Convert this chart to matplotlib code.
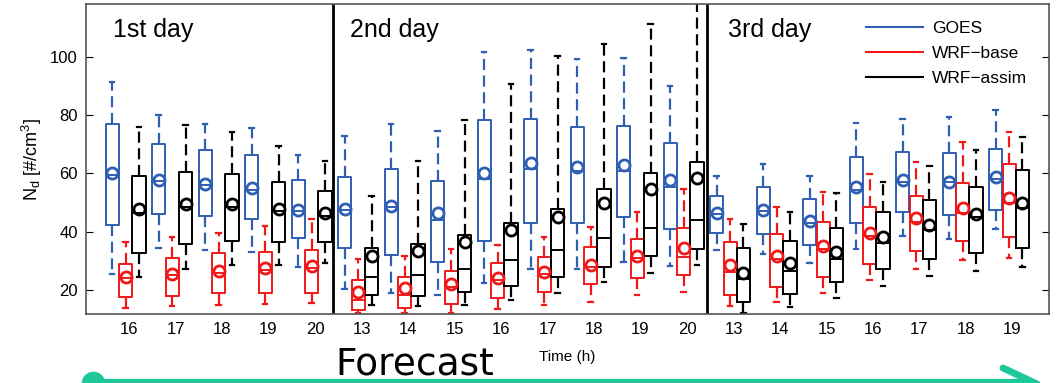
import numpy as np
import matplotlib
matplotlib.use("Agg")
import matplotlib.pyplot as plt
from matplotlib.lines import Line2D

# hours shown under each group of boxes (three forecast days)
hours = [16, 17, 18, 19, 20, 13, 14, 15, 16, 17, 18, 19, 20, 13, 14, 15, 16, 17, 18, 19]
day_names = ["1st day", "2nd day", "3rd day"]

# GOES
goes_lo = [25.4, 34.3, 33.7, 33.2, 27.8, 20.2, 18.9, 18.3, 22.5, 27.1, 27.1, 29.7, 28.2, 33.7, 32.4, 29.2, 34.0, 38.6, 37.4, 40.8]
goes_q1 = [42.3, 46.0, 45.4, 44.4, 37.8, 34.3, 32.0, 29.7, 36.9, 43.1, 43.1, 45.2, 40.8, 39.5, 39.1, 35.5, 43.1, 46.7, 45.8, 47.5]
goes_med = [59.5, 57.5, 56.0, 54.5, 47.0, 47.5, 48.5, 44.0, 58.0, 61.5, 61.0, 60.7, 55.3, 46.0, 47.0, 43.0, 54.5, 57.0, 57.0, 58.0]
goes_q3 = [76.9, 70.0, 67.9, 66.2, 57.6, 58.9, 61.5, 57.5, 78.4, 78.8, 75.9, 76.4, 70.6, 52.1, 55.5, 51.3, 65.8, 67.3, 67.2, 68.3]
goes_hi = [91.4, 80.1, 76.9, 75.6, 66.2, 72.9, 77.0, 74.7, 101.7, 102.5, 99.3, 99.8, 90.1, 59.2, 63.3, 59.3, 77.5, 78.7, 79.3, 81.9]
goes_mean = [60.0, 57.8, 56.3, 54.9, 47.5, 47.7, 48.9, 46.3, 60.3, 63.7, 62.2, 63.0, 57.6, 46.4, 47.5, 43.8, 55.2, 57.8, 57.2, 58.9]

# WRF-base
base_lo = [13.9, 14.5, 14.8, 15.2, 15.4, 12.0, 12.0, 12.2, 13.4, 14.8, 16.0, 18.3, 19.4, 14.5, 16.0, 18.9, 23.4, 27.1, 30.3, 30.9]
base_q1 = [17.7, 18.1, 18.9, 18.9, 19.1, 13.1, 13.7, 15.2, 17.1, 19.4, 22.1, 24.0, 25.2, 18.3, 20.9, 24.6, 28.9, 33.5, 36.8, 38.1]
base_med = [24.0, 25.0, 26.0, 27.0, 27.5, 16.6, 18.3, 21.0, 23.5, 25.5, 28.0, 31.0, 31.2, 26.3, 30.5, 34.0, 38.5, 43.5, 46.5, 49.8]
base_q3 = [28.8, 30.9, 32.6, 33.2, 33.7, 23.4, 24.6, 26.6, 29.4, 31.4, 34.7, 37.4, 41.2, 36.6, 39.2, 43.5, 48.4, 52.4, 56.9, 63.2]
base_hi = [36.6, 38.3, 39.5, 41.8, 44.3, 30.5, 31.7, 34.0, 35.5, 38.1, 41.5, 46.9, 54.7, 44.3, 48.6, 53.8, 59.9, 64.1, 70.7, 74.1]
base_mean = [24.6, 25.5, 26.6, 27.4, 28.2, 19.4, 20.6, 22.1, 24.0, 26.3, 28.6, 31.7, 34.3, 28.6, 31.7, 35.1, 39.7, 44.6, 48.1, 51.7]

# WRF-assim
assim_lo = [24.6, 27.1, 28.6, 28.6, 29.2, 14.8, 14.5, 14.8, 16.6, 18.9, 22.9, 25.9, 28.6, 12.2, 14.3, 17.4, 21.4, 24.8, 26.6, 27.8]
assim_q1 = [32.6, 35.7, 36.8, 36.6, 36.6, 18.3, 18.0, 19.2, 21.5, 24.6, 28.0, 31.7, 34.0, 16.0, 18.6, 22.9, 27.1, 30.5, 32.6, 34.3]
assim_med = [46.5, 48.5, 48.5, 47.0, 45.5, 24.6, 25.0, 27.3, 30.3, 33.7, 38.0, 41.2, 44.1, 23.7, 26.5, 30.5, 36.0, 40.6, 45.0, 48.1]
assim_q3 = [59.3, 60.4, 59.8, 57.0, 54.1, 34.3, 35.7, 38.9, 42.9, 47.8, 54.7, 60.1, 64.1, 34.3, 36.9, 41.2, 46.7, 50.9, 55.3, 61.2]
assim_hi = [75.8, 76.7, 74.1, 69.6, 64.3, 52.1, 64.4, 78.4, 90.8, 100.2, 104.5, 111.4, 125.0, 42.7, 46.9, 53.2, 57.2, 62.4, 68.1, 72.7]
assim_mean = [47.7, 49.6, 49.6, 47.8, 46.3, 31.7, 33.5, 36.5, 40.6, 45.2, 50.0, 54.6, 58.4, 25.9, 29.2, 33.2, 38.1, 42.3, 46.0, 50.0]

series = [
    ("GOES", "#2f5fb3", -0.29, goes_lo, goes_q1, goes_med, goes_q3, goes_hi, goes_mean),
    ("WRF\u2212base", "#f01818", 0.0, base_lo, base_q1, base_med, base_q3, base_hi, base_mean),
    ("WRF\u2212assim", "black", 0.29, assim_lo, assim_q1, assim_med, assim_q3, assim_hi, assim_mean),
]

plt.rcParams['font.family'] = ['Liberation Sans', 'DejaVu Sans']

fig = plt.figure(figsize=(10.58, 3.83), dpi=100)
ax = fig.add_axes([86/1058, 1 - 314/383, 963/1058, 310/383])

idx = np.arange(len(hours))
for name, col, off, lo, q1, med, q3, hi, mn in series:
    stats = []
    for i in range(len(hours)):
        stats.append(dict(whislo=lo[i], q1=q1[i], med=med[i], q3=q3[i],
                          whishi=hi[i], mean=mn[i], fliers=[]))
    ax.bxp(stats, positions=idx + off, widths=0.28, showmeans=True,
           showfliers=False, capwidths=0.09, manage_ticks=False,
           boxprops=dict(color=col, lw=1.4),
           whiskerprops=dict(color=col, lw=1.6, linestyle=(0, (5, 2.5))),
           capprops=dict(color=col, lw=1.6),
           medianprops=dict(color=col, lw=1.4),
           meanprops=dict(marker='o', markerfacecolor='none', markeredgecolor=col,
                          markersize=8, markeredgewidth=2))
    ax.plot([], [], color=col, lw=1.5, label=name)

# day separators
for xs in [4.46, 12.5]:
    ax.axvline(xs, color='black', lw=2)

ax.set_xlim(-0.85, 19.86)
ax.set_ylim(11.75, 118.2)
ax.set_yticks([20, 40, 60, 80, 100])
ax.set_xticks(idx + 0.075)
ax.set_xticklabels([str(h) for h in hours])
ax.tick_params(axis='x', length=0, labelsize=12, pad=6)
ax.tick_params(axis='y', direction='in', length=5, right=True, labelsize=12, pad=6)
for sp in ax.spines.values():
    sp.set_color('#555555')
    sp.set_linewidth(1.2)

ax.set_ylabel("N$_\\mathregular{d}$ [#/cm$^\\mathregular{3}$]", fontsize=13, labelpad=4)
ax.set_xlabel("Time (h)", fontsize=11, labelpad=9)

for xpos, nm in zip([0.028, 0.274, 0.667], day_names):
    ax.text(xpos, 0.894, nm, transform=ax.transAxes, fontsize=18, va='baseline')

ax.legend(loc='upper left', bbox_to_anchor=(0.81, 0.945), frameon=False,
          fontsize=12.5, handlelength=3.3, handletextpad=0.5, labelspacing=0.55,
          borderpad=0, borderaxespad=0)

# forecast arrow under the chart
teal = '#1ec89a'
fig.text(335/1058, 0.002, "Forecast", fontsize=27, family='DejaVu Sans', va='bottom')
fig.add_artist(Line2D([93/1058, 1030/1058], [1 - 382/383] * 2, lw=4.5, color=teal))
fig.add_artist(Line2D([93/1058], [1 - 383/383], marker='o', markersize=16, color=teal, lw=0))
fig.add_artist(Line2D([1003/1058, 1037/1058], [1 - 368/383, 1 - 384/383], lw=5,
                      color=teal, solid_capstyle='round'))

fig.savefig("out.png", dpi=100)
